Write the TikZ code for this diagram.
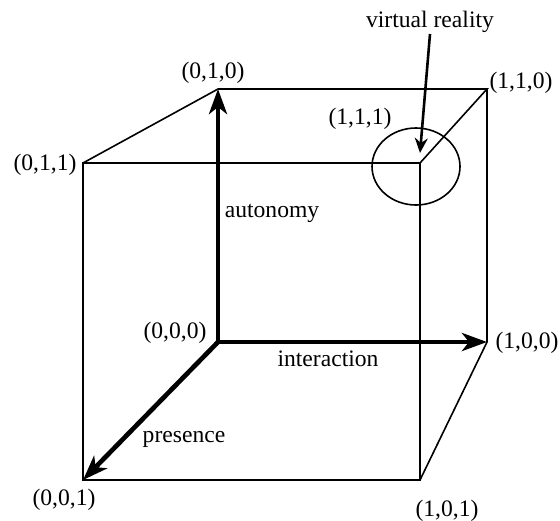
\documentclass[tikz,border=0pt]{standalone}
\usepackage{fontspec}
\setmainfont{Liberation Serif}
\usetikzlibrary{arrows.meta,shapes.geometric}
\begin{document}
\begin{tikzpicture}[x=0.5pt,y=-0.5pt,
  edge/.style={line width=0.8pt, line join=miter},
  axis/.style={line width=2.35pt, -{Stealth[length=12.5pt,width=9pt,inset=3.5pt]}},
  pointer/.style={line width=1.3pt, -{Stealth[length=7.5pt,width=6.5pt,inset=2.5pt]}},
  lbl/.style={font=\fontsize{11.8pt}{14pt}\selectfont, anchor=base, inner sep=0pt}]
\useasboundingbox (0,0) rectangle (560,520);
% vertices
\coordinate (A000) at (218,342);
\coordinate (A010) at (218,89);
\coordinate (A110) at (487,89);
\coordinate (A100) at (487,342);
\coordinate (A011) at (83,163);
\coordinate (A111) at (420,163);
\coordinate (A001) at (83,480);
\coordinate (A101) at (420,480);
% cube edges
\draw[edge] (A011) -- (A111) -- (A101) -- (A001) -- cycle;
\draw[edge] (A011) -- (A010) -- (A110) -- (A111);
\draw[edge] (A110) -- (A100) -- (A101);
% axes
\draw[axis] (A000) -- (A010);
\draw[axis] (A000) -- (A100);
\draw[axis] (A000) -- (A001);
% front vertical edge over interaction arrow
\draw[edge] (A111) -- (A101);
% ellipse
\node[draw, line width=0.8pt, ellipse, minimum width=44pt, minimum height=38.5pt, inner sep=0pt] (vrcircle) at (416,166.5) {};
% labels
\node[lbl] (l010) at (213,78) {(0,1,0)};
\node[lbl] (l011) at (45,170) {(0,1,1)};
\node[lbl] (l110) at (521,88) {(1,1,0)};
\node[lbl] (l111) at (360,124) {(1,1,1)};
\node[lbl] (l100) at (527,348) {(1,0,0)};
\node[lbl] (l000) at (175,338) {(0,0,0)};
\node[lbl] (l001) at (64,505) {(0,0,1)};
\node[lbl] (l101) at (447,516) {(1,0,1)};
\node[lbl] (interaction) at (328,366) {interaction};
\node[lbl] (autonomy) at (272,217) {autonomy};
\node[lbl] (presence) at (184,442) {presence};
\node[lbl] (vr) at (430,27) {virtual reality};
% pointer
\coordinate (vrstart) at (430,34);
\coordinate (vrtip) at (420,153);
\draw[pointer] (vrstart) -- (vrtip);
\end{tikzpicture}
\end{document}
